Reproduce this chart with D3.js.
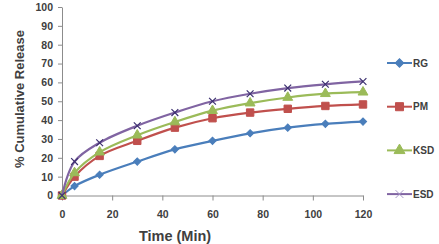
<!DOCTYPE html>
<html>
<head>
<meta charset="utf-8">
<script src="https://cdn.jsdelivr.net/npm/d3@7"></script>
<style>
  body { margin: 0; background: #fff; }
  text { font-family: "Liberation Sans", Arial, sans-serif; font-weight: bold; fill: #404040; }
</style>
</head>
<body>
<script>
const width = 439;
const height = 244;

// time points (min)
const times = [0, 5, 15, 30, 45, 60, 75, 90, 105, 120];
const rg  = [0, 5, 11, 18, 24.5, 29, 33, 36, 38, 39.2];
const pm  = [0, 10, 21, 29, 36, 41, 44, 46, 47.5, 48.3];
const ksd = [0, 12, 23, 32, 39, 45, 49, 52, 54, 54.8];
const esd = [0, 18, 28, 37, 44, 50, 54, 57, 59, 60.5];

const seriesNames = ["RG", "PM", "KSD", "ESD"];
const seriesValues = [rg, pm, ksd, esd];
const colors = ["#4a7ebb", "#c0504d", "#9bbb59", "#8064a2"];
const symbols = [d3.symbolSquare, d3.symbolSquare, d3.symbolTriangle, d3.symbolX];
const symbolSizes = [26, 55, 42, 32];
const rotations = [45, 0, 0, 0];

const xTicks = [0, 20, 40, 60, 80, 100, 120];
const yTicks = [0, 10, 20, 30, 40, 50, 60, 70, 80, 90, 100];

const svg = d3.select("body")
    .append("svg")
    .attr("width", width)
    .attr("height", height);

const x = d3.scaleLinear().domain([0, 120]).range([62, 363]);
const y = d3.scaleLinear().domain([0, 100]).range([195.5, 7]);

// axes
const xAxis = svg.append("g")
    .attr("transform", "translate(0," + y(0) + ")")
    .call(d3.axisBottom(x).tickValues(xTicks).tickSize(5).tickPadding(10).tickSizeOuter(0));
const yAxis = svg.append("g")
    .attr("transform", "translate(" + x(0) + ",0)")
    .call(d3.axisLeft(y).tickValues(yTicks).tickSize(4).tickPadding(5).tickSizeOuter(0));

[xAxis, yAxis].forEach(a => {
    a.select(".domain").attr("stroke", "#8c8c8c");
    a.selectAll(".tick line").attr("stroke", "#8c8c8c");
    a.selectAll(".tick text").style("font-size", "10.5px").attr("fill", "#404040");
});

// titles
svg.append("text")
    .attr("x", 175)
    .attr("y", 241)
    .attr("text-anchor", "middle")
    .style("font-size", "14.5px")
    .attr("fill", "#262626")
    .text("Time (Min)");

svg.append("text")
    .attr("transform", "translate(24,99) rotate(-90)")
    .attr("text-anchor", "middle")
    .style("font-size", "13px")
    .attr("fill", "#262626")
    .text("% Cumulative Release");

const line = d3.line()
    .x((d, i) => x(times[i]))
    .y(d => y(d))
    .curve(d3.curveCatmullRom.alpha(0.5));

seriesValues.forEach((vals, s) => {
    const g = svg.append("g");
    g.append("path")
        .attr("d", line(vals))
        .attr("fill", "none")
        .attr("stroke", colors[s])
        .attr("stroke-width", 2.2);

    g.selectAll("path.mark")
        .data(vals)
        .enter()
        .append("path")
        .attr("class", "mark")
        .attr("d", d3.symbol().type(symbols[s]).size(symbolSizes[s]))
        .attr("transform", (d, i) => "translate(" + x(times[i]) + "," + y(d) + ") rotate(" + rotations[s] + ")")
        .attr("fill", s === 3 ? "none" : colors[s])
        .attr("stroke", s === 3 ? "#3c3070" : colors[s])
        .attr("stroke-width", s === 3 ? 1.2 : 1);

    // legend
    const ly = 63 + s * 43.7;
    const lg = svg.append("g").attr("transform", "translate(387," + ly + ")");
    lg.append("line")
        .attr("x1", 0).attr("x2", 25)
        .attr("stroke", colors[s])
        .attr("stroke-width", 2);
    lg.append("path")
        .attr("d", d3.symbol().type(symbols[s]).size(symbolSizes[s] + 10))
        .attr("transform", "translate(12.5,0) rotate(" + rotations[s] + ")")
        .attr("fill", s === 3 ? "none" : colors[s])
        .attr("stroke", s === 3 ? "#a898c8" : colors[s]);
    lg.append("text")
        .attr("x", 26)
        .attr("y", 3.5)
        .style("font-size", "10px")
        .attr("fill", "#404040")
        .text(seriesNames[s]);
});
</script>
</body>
</html>
